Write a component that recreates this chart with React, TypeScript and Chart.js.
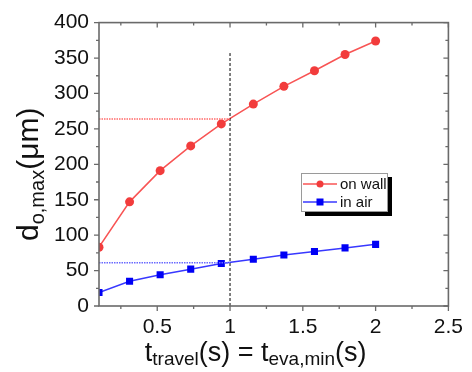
import { useEffect, useRef } from "react";
import { Chart, registerables } from "chart.js";

Chart.register(...registerables);

// ---- data ----
const travelTimes = [0.1, 0.31, 0.52, 0.73, 0.94, 1.16, 1.37, 1.58, 1.79, 2.0];
const onWallDiameters = [83, 147, 191, 226, 257, 285, 310, 332, 355, 374];
const inAirDiameters = [19, 35, 44, 52, 60, 66, 72, 77, 82, 87];

const xTickValues = [0.5, 1, 1.5, 2, 2.5];
const yTickValues = [0, 50, 100, 150, 200, 250, 300, 350, 400];
const xMinorTicks = [0.25, 0.5, 0.75, 1, 1.25, 1.5, 1.75, 2, 2.25, 2.5];
const yMinorTicks = [0, 25, 50, 75, 100, 125, 150, 175, 200, 225, 250, 275, 300, 325, 350, 375, 400];

const refTime = 1;
const refOnWall = 264;
const refInAir = 61;
const refLineTop = 357;

const seriesNames = ["on wall", "in air"];

const FONT = '"Liberation Sans", Arial, Helvetica, sans-serif';
const RED = "#f23c3c";
const RED_LINE = "#f85454";
const BLUE = "#0000f5";
const BLUE_LINE = "#3838ff";
const AXIS = "#6a6a6a";

type Part = { t: string; size: number; dy: number };

function partsWidth(ctx: CanvasRenderingContext2D, parts: Part[]) {
  let w = 0;
  for (const p of parts) {
    ctx.font = `${p.size}px ${FONT}`;
    w += ctx.measureText(p.t).width;
  }
  return w;
}

function drawParts(ctx: CanvasRenderingContext2D, parts: Part[], x: number, y: number) {
  let cx = x;
  for (const p of parts) {
    ctx.font = `${p.size}px ${FONT}`;
    ctx.fillText(p.t, cx, y + p.dy);
    cx += ctx.measureText(p.t).width;
  }
}

const decorPlugin = {
  id: "decor",
  afterDatasetsDraw(chart: any) {
    const ctx: CanvasRenderingContext2D = chart.ctx;
    const { left, right, top, bottom } = chart.chartArea;
    const xs = chart.scales.x;
    const ys = chart.scales.y;
    ctx.save();
    // frame
    ctx.strokeStyle = AXIS;
    ctx.lineWidth = 1.6;
    ctx.strokeRect(left, top, right - left, bottom - top);
    // ticks
    ctx.lineWidth = 1.3;
    ctx.beginPath();
    for (const v of xMinorTicks) {
      const px = xs.getPixelForValue(v);
      const major = Math.abs(v * 2 - Math.round(v * 2)) < 1e-6;
      const len = major ? 5 : 3;
      ctx.moveTo(px, bottom);
      ctx.lineTo(px, bottom + len);
      ctx.moveTo(px, top);
      ctx.lineTo(px, top + len);
    }
    for (const v of yMinorTicks) {
      const py = ys.getPixelForValue(v);
      const major = v % 50 === 0;
      const len = major ? 5 : 3;
      ctx.moveTo(left, py);
      ctx.lineTo(left - len, py);
      ctx.moveTo(right, py);
      ctx.lineTo(right - len, py);
    }
    ctx.stroke();

    // x title
    ctx.fillStyle = "#111";
    ctx.textBaseline = "alphabetic";
    ctx.textAlign = "left";
    const xParts: Part[] = [
      { t: "t", size: 27, dy: 0 },
      { t: "travel", size: 19, dy: 4 },
      { t: "(s) = t", size: 27, dy: 0 },
      { t: "eva,min", size: 19, dy: 4 },
      { t: "(s)", size: 27, dy: 0 },
    ];
    const xw = partsWidth(ctx, xParts);
    drawParts(ctx, xParts, (left + right) / 2 - 18 - xw / 2, 361);

    // y title
    const yParts: Part[] = [
      { t: "d", size: 30, dy: 0 },
      { t: "o,max", size: 20, dy: 6 },
      { t: "(\u03bcm)", size: 30, dy: 0 },
    ];
    const yw = partsWidth(ctx, yParts);
    ctx.save();
    ctx.translate(38, (top + bottom) / 2 + 10);
    ctx.rotate(-Math.PI / 2);
    drawParts(ctx, yParts, -yw / 2, 0);
    ctx.restore();

    // legend
    const lx = 301, ly = 173, lw = 87, lh = 39;
    ctx.fillStyle = "#000";
    ctx.fillRect(lx + 4, ly + 4, lw, lh);
    ctx.fillStyle = "#fff";
    ctx.fillRect(lx, ly, lw, lh);
    ctx.strokeStyle = "#9a9a9a";
    ctx.lineWidth = 1;
    ctx.strokeRect(lx + 0.5, ly + 0.5, lw - 1, lh - 1);
    const rows = [
      { y: ly + 11, line: RED_LINE, fill: RED, shape: "circle" },
      { y: ly + 29, line: BLUE_LINE, fill: BLUE, shape: "square" },
    ];
    rows.forEach((r, i) => {
      ctx.strokeStyle = r.line;
      ctx.lineWidth = 1.5;
      ctx.beginPath();
      ctx.moveTo(lx + 2, r.y);
      ctx.lineTo(lx + 36, r.y);
      ctx.stroke();
      ctx.fillStyle = r.fill;
      if (r.shape === "circle") {
        ctx.beginPath();
        ctx.arc(lx + 19, r.y, 3.5, 0, Math.PI * 2);
        ctx.fill();
      } else {
        ctx.fillRect(lx + 15.5, r.y - 3.5, 7, 7);
      }
      ctx.fillStyle = "#111";
      ctx.font = `15px ${FONT}`;
      ctx.textBaseline = "middle";
      ctx.fillText(seriesNames[i], lx + 39, r.y + 1);
    });
    ctx.restore();
  },
};

export default function App() {
  const ref = useRef<HTMLCanvasElement | null>(null);
  useEffect(() => {
    if (!ref.current) return;
    const pts = (ys: number[]) => travelTimes.map((x, i) => ({ x, y: ys[i] }));
    const chart = new Chart(ref.current, {
      type: "line",
      data: {
        datasets: [
          {
            data: [
              { x: travelTimes[0], y: refOnWall },
              { x: refTime, y: refOnWall },
            ],
            borderColor: "#ff6a6a",
            borderWidth: 1.6,
            borderDash: [1.5, 1],
            pointRadius: 0,
          },
          {
            data: [
              { x: travelTimes[0], y: refInAir },
              { x: refTime, y: refInAir },
            ],
            borderColor: "#6a6aff",
            borderWidth: 1.6,
            borderDash: [1.5, 1],
            pointRadius: 0,
          },
          {
            data: [
              { x: refTime, y: 0 },
              { x: refTime, y: refLineTop },
            ],
            borderColor: "#000",
            borderWidth: 1,
            borderDash: [3, 2],
            pointRadius: 0,
          },
          {
            label: seriesNames[0],
            data: pts(onWallDiameters),
            borderColor: RED_LINE,
            backgroundColor: RED,
            borderWidth: 1.5,
            pointRadius: 4.5,
            pointStyle: "circle",
            pointBorderWidth: 0,
            clip: 0,
          },
          {
            label: seriesNames[1],
            data: pts(inAirDiameters),
            borderColor: BLUE_LINE,
            backgroundColor: BLUE,
            borderWidth: 1.5,
            pointRadius: 5,
            pointStyle: "rect",
            pointBorderWidth: 0,
            clip: 0,
          },
        ],
      },
      options: {
        animation: false,
        responsive: false,
        events: [],
        layout: { padding: { left: 0, top: 17.5, right: 19.3, bottom: 0 } },
        plugins: { legend: { display: false }, tooltip: { enabled: false } },
        scales: {
          x: {
            type: "linear",
            min: 0.1,
            max: 2.5,
            grid: { display: false, drawTicks: false },
            border: { display: false },
            afterBuildTicks: (s: any) => {
              s.ticks = xTickValues.map((v) => ({ value: v }));
            },
            afterFit: (s: any) => {
              s.height = 66;
            },
            ticks: {
              padding: 9,
              maxRotation: 0,
              color: "#111",
              font: { family: FONT, size: 21 },
              callback: (v: any) => String(v),
            },
          },
          y: {
            type: "linear",
            min: 0,
            max: 400,
            grid: { display: false, drawTicks: false },
            border: { display: false },
            afterBuildTicks: (s: any) => {
              s.ticks = yTickValues.map((v) => ({ value: v }));
            },
            afterFit: (s: any) => {
              s.width = 99;
            },
            ticks: {
              padding: 10,
              color: "#111",
              font: { family: FONT, size: 21 },
              callback: (v: any) => String(v),
            },
          },
        },
      } as any,
      plugins: [decorPlugin],
    } as any);
    return () => chart.destroy();
  }, []);
  return (
    <div style={{ position: "fixed", left: 0, top: 0, width: 472, height: 372, background: "#fff" }}>
      <canvas ref={ref} width={472} height={372} style={{ width: 472, height: 372, display: "block" }} />
    </div>
  );
}
